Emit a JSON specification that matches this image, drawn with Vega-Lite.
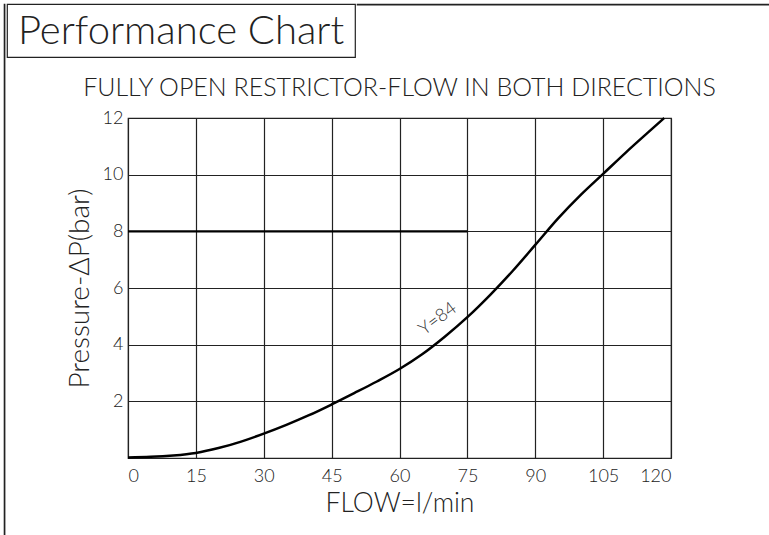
{
  "$schema": "https://vega.github.io/schema/vega-lite/v6.json",
  "padding": {"left": 3, "top": 3, "right": 0, "bottom": 0},
  "background": "white",
  "config": {
    "font": "Lato",
    "view": {"stroke": null},
    "axis": {"labelFont": "Lato", "titleFont": "Lato"}
  },
  "datasets": {
    "curve": [
      {"flow": 0, "dp": 0.02},
      {"flow": 5, "dp": 0.04},
      {"flow": 10, "dp": 0.09},
      {"flow": 15, "dp": 0.18},
      {"flow": 20, "dp": 0.35},
      {"flow": 25, "dp": 0.58},
      {"flow": 30, "dp": 0.86},
      {"flow": 35, "dp": 1.17},
      {"flow": 40, "dp": 1.51},
      {"flow": 45, "dp": 1.89},
      {"flow": 50, "dp": 2.29},
      {"flow": 55, "dp": 2.7},
      {"flow": 60, "dp": 3.14},
      {"flow": 65, "dp": 3.66},
      {"flow": 70, "dp": 4.28},
      {"flow": 75, "dp": 4.97},
      {"flow": 80, "dp": 5.75},
      {"flow": 85, "dp": 6.6},
      {"flow": 90, "dp": 7.52},
      {"flow": 95, "dp": 8.45},
      {"flow": 100, "dp": 9.28},
      {"flow": 105, "dp": 10.03},
      {"flow": 110, "dp": 10.78},
      {"flow": 115, "dp": 11.5},
      {"flow": 118.5, "dp": 12.0}
    ],
    "ref": [{"x0": 0, "x1": 75, "y": 8}],
    "lab": [{"flow": 68.5, "dp": 4.9, "text": "Y=84"}],
    "title": [{"label": "Performance Chart"}],
    "blank": []
  },
  "hconcat": [
    {
      "width": 0.5,
      "height": 531,
      "view": {"stroke": "#222", "strokeWidth": 1.2},
      "data": {"name": "blank"},
      "mark": "point"
    },
    {
      "vconcat": [
        {
          "hconcat": [
            {
              "width": 348,
              "height": 53,
              "view": {"stroke": "#222", "strokeWidth": 1.2},
              "data": {"name": "title"},
              "mark": {"type": "text", "fontSize": 40, "fontWeight": 300, "color": "#222", "baseline": "middle", "align": "center", "dy": 1},
              "encoding": {"text": {"field": "label"}}
            },
            {
              "width": 420,
              "height": 0.5,
              "view": {"stroke": "#222", "strokeWidth": 1.2},
              "data": {"name": "blank"},
              "mark": "point"
            }
          ],
          "spacing": 0
        },
        {
          "hconcat": [
            {
              "width": 0.5,
              "height": 340,
              "data": {"name": "blank"},
              "mark": "point"
            },
            {
              "width": 543,
              "height": 340,
              "view": {"stroke": "#222", "strokeWidth": 1.2},
              "title": {
                "text": ["", "FULLY OPEN RESTRICTOR-FLOW IN BOTH DIRECTIONS"],
                "fontSize": 25,
                "fontWeight": 300,
                "color": "#222",
                "lineHeight": 17,
                "offset": 8,
                "anchor": "middle"
              },
              "layer": [
                {
                  "data": {"name": "curve"},
                  "mark": {"type": "line", "color": "black", "strokeWidth": 2.5, "interpolate": "monotone"},
                  "encoding": {
                    "x": {
                      "field": "flow",
                      "type": "quantitative",
                      "scale": {"domain": [0, 120], "nice": false},
                      "axis": {
                        "values": [0, 15, 30, 45, 60, 75, 90, 105, 120],
                        "title": "FLOW=l/min",
                        "titleFontSize": 26.5,
                        "titleFontWeight": 300,
                        "titleColor": "#222",
                        "titlePadding": 5,
                        "labelFontSize": 18,
                        "labelFontWeight": 300,
                        "labelColor": "#222",
                        "labelPadding": 9,
                        "ticks": false,
                        "domain": false,
                        "grid": true,
                        "gridColor": "#222",
                        "gridWidth": 1.2,
                        "gridOpacity": 1
                      }
                    },
                    "y": {
                      "field": "dp",
                      "type": "quantitative",
                      "scale": {"domain": [0, 12], "nice": false},
                      "axis": {
                        "values": [2, 4, 6, 8, 10, 12],
                        "title": "Pressure-ΔP(bar)",
                        "titleFontSize": 28,
                        "titleFontWeight": 300,
                        "titleColor": "#222",
                        "titlePadding": 8,
                        "labelFontSize": 18,
                        "labelFontWeight": 300,
                        "labelColor": "#222",
                        "labelPadding": 5,
                        "ticks": false,
                        "domain": false,
                        "grid": true,
                        "gridColor": "#222",
                        "gridWidth": 1.2,
                        "gridOpacity": 1
                      }
                    }
                  }
                },
                {
                  "data": {"name": "ref"},
                  "mark": {"type": "rule", "color": "black", "strokeWidth": 2.2},
                  "encoding": {
                    "x": {"field": "x0", "type": "quantitative"},
                    "x2": {"field": "x1"},
                    "y": {"field": "y", "type": "quantitative"}
                  }
                },
                {
                  "data": {"name": "lab"},
                  "mark": {"type": "text", "angle": -37, "fontSize": 18, "fontWeight": 300, "color": "#333", "align": "center", "baseline": "middle"},
                  "encoding": {
                    "x": {"field": "flow", "type": "quantitative"},
                    "y": {"field": "dp", "type": "quantitative"},
                    "text": {"field": "text"}
                  }
                }
              ]
            }
          ],
          "spacing": 57
        }
      ],
      "spacing": 0
    }
  ],
  "spacing": 0
}
